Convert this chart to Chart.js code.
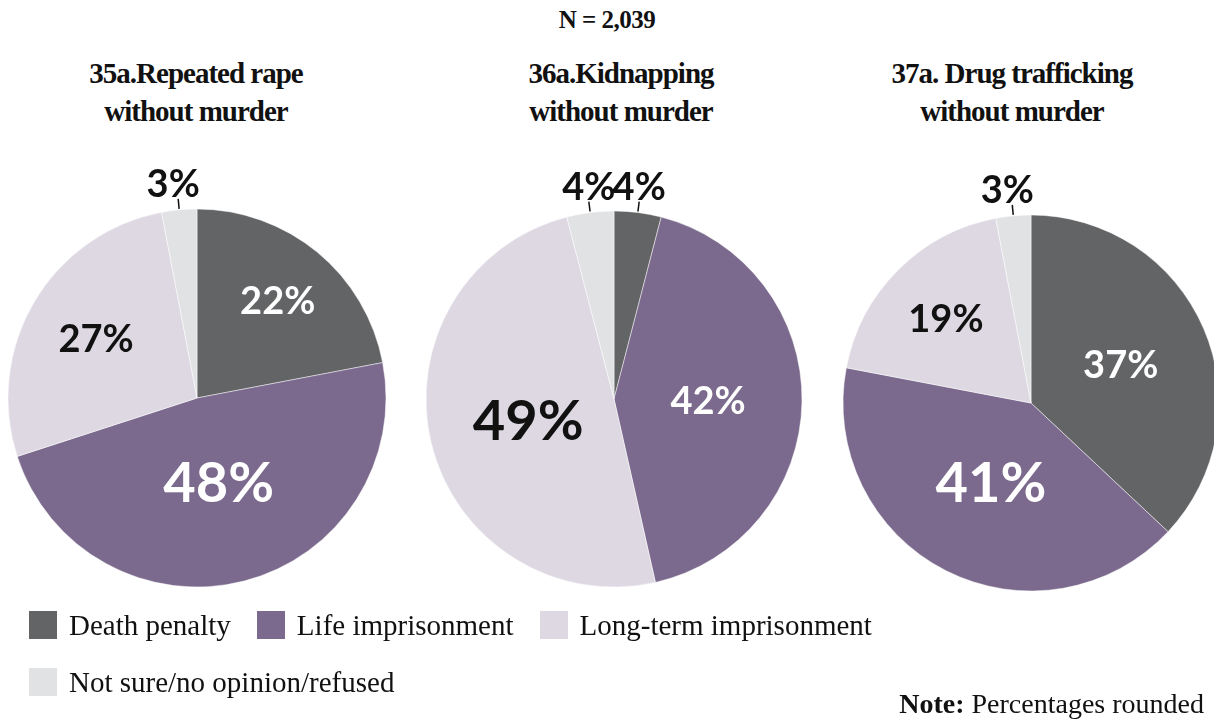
<!DOCTYPE html>
<html>
<head>
<meta charset="utf-8">
<script src="https://cdn.jsdelivr.net/npm/chart.js@4.4.1/dist/chart.umd.min.js"></script>
<style>
  body { margin: 0; background: #fff; }
  #page { position: relative; width: 1214px; height: 720px; overflow: hidden; background: #fff; }
  .serif { font-family: "Liberation Serif", "DejaVu Serif", serif; color: #111; }
  .title { position: absolute; width: 360px; text-align: center; font-weight: bold; font-size: 29px; line-height: 38px; letter-spacing: -1px; }
  .pie { position: absolute; }
  #legend { position: absolute; left: 29px; top: 610px; width: 900px; }
  .leg { display: inline-flex; align-items: center; margin-right: 26px; height: 30px; margin-bottom: 27px; font-size: 29px; }
  .leg span.box { display: inline-block; width: 28px; height: 28px; margin-right: 12px; }
  #note { position: absolute; right: 10px; top: 688px; font-size: 28px; }
</style>
</head>
<body>
<div id="page">
  <div class="serif title" style="left:427px; top:1px; font-size:25px; letter-spacing:-0.5px;">N = 2,039</div>
  <div id="titles"></div>
  <canvas id="pie1" class="pie" width="480" height="480"></canvas>
  <canvas id="pie2" class="pie" width="480" height="480"></canvas>
  <canvas id="pie3" class="pie" width="480" height="480"></canvas>
  <div id="legend" class="serif"></div>
  <div id="note" class="serif"><b>Note:</b> Percentages rounded</div>
</div>
<script>
// categories and values (percent)
const categories = ['Death penalty', 'Life imprisonment', 'Long-term imprisonment', 'Not sure/no opinion/refused'];
const rapeValues = [22, 48, 27, 3];
const kidnapValues = [4, 42, 49, 4];
const drugValues = [37, 41, 19, 3];
const titles = [
    ['35a.Repeated rape', 'without murder'],
    ['36a.Kidnapping', 'without murder'],
    ['37a. Drug trafficking', 'without murder']
];

const sliceColors = ['#636466', '#7b6a8d', '#ded8e3', '#e1e2e4'];
const textColors = ['#fff', '#fff', '#111', '#111'];

// layout of each pie: centre on the page, radius, label distance (fraction of radius)
const pies = [
    { id: 'pie1', values: rapeValues, cx: 197, cy: 398, r: 189, frac: [0.67, 0.46, 0.62, 0], titleX: 196 },
    { id: 'pie2', values: kidnapValues, cx: 614, cy: 399, r: 188, frac: [0, 0.5, 0.47, 0], titleX: 621 },
    { id: 'pie3', values: drugValues, cx: 1031, cy: 403, r: 188, frac: [0.52, 0.47, 0.64, 0], titleX: 1012 }
];
const HALF = 240;

const sliceLabels = {
    id: 'sliceLabels',
    afterDatasetsDraw(chart, args, opts) {
        const ctx = chart.ctx;
        const values = chart.data.datasets[0].data;
        const maxVal = Math.max(...values);
        chart.getDatasetMeta(0).data.forEach((arc, i) => {
            const p = arc.getProps(['x', 'y', 'startAngle', 'endAngle', 'outerRadius'], true);
            const mid = (p.startAngle + p.endAngle) / 2;
            const c = Math.cos(mid), s = Math.sin(mid);
            const txt = values[i] + '%';
            ctx.save();
            ctx.textAlign = 'center';
            ctx.textBaseline = 'alphabetic';
            if (values[i] < 5) {
                // small slice: label outside with a short leader line
                const x1 = p.x + c * (p.outerRadius + 1), y1 = p.y + s * (p.outerRadius + 1);
                const x2 = p.x + c * (p.outerRadius + 11), y2 = p.y + s * (p.outerRadius + 11);
                ctx.strokeStyle = '#111';
                ctx.lineWidth = 1.5;
                ctx.beginPath();
                ctx.moveTo(x1, y1);
                ctx.lineTo(x2, y2);
                ctx.stroke();
                ctx.font = 'bold 38px Lato';
                ctx.fillStyle = '#111';
                // lone small labels sit slightly left of their leader line
                const nudge = i === values.length - 1 && values[0] >= 5 ? -5 : 0;
                ctx.fillText(txt, x2 + nudge, y2 - 2);
            } else {
                const d = p.outerRadius * opts.frac[i];
                const size = values[i] === maxVal ? 56 : 38;
                ctx.font = 'bold ' + size + 'px Lato';
                ctx.fillStyle = textColors[i];
                ctx.fillText(txt, p.x + c * d, p.y + s * d + size * 0.36);
            }
            ctx.restore();
        });
    }
};

pies.forEach((pie, k) => {
    const canvas = document.getElementById(pie.id);
    canvas.style.left = (pie.cx - HALF) + 'px';
    canvas.style.top = (pie.cy - HALF) + 'px';

    const t = document.createElement('div');
    t.className = 'serif title';
    t.style.left = (pie.titleX - 180) + 'px';
    t.style.top = '54px';
    t.innerHTML = titles[k].join('<br>');
    document.getElementById('titles').appendChild(t);

    new Chart(canvas.getContext('2d'), {
        type: 'pie',
        data: {
            labels: categories,
            datasets: [{
                data: pie.values,
                backgroundColor: sliceColors,
                borderColor: 'rgba(255,255,255,0.6)',
                borderWidth: 0.8,
                radius: pie.r
            }]
        },
        options: {
            responsive: false,
            animation: false,
            layout: { padding: 0 },
            plugins: {
                legend: { display: false },
                tooltip: { enabled: false },
                sliceLabels: { frac: pie.frac }
            }
        },
        plugins: [sliceLabels]
    });
});

// legend
const legend = document.getElementById('legend');
categories.forEach((cat, i) => {
    const item = document.createElement('div');
    item.className = 'leg';
    item.innerHTML = '<span class="box" style="background:' + sliceColors[i] + '"></span>' + cat;
    legend.appendChild(item);
    if (i === 2) legend.appendChild(document.createElement('br'));
});
</script>
</body>
</html>
